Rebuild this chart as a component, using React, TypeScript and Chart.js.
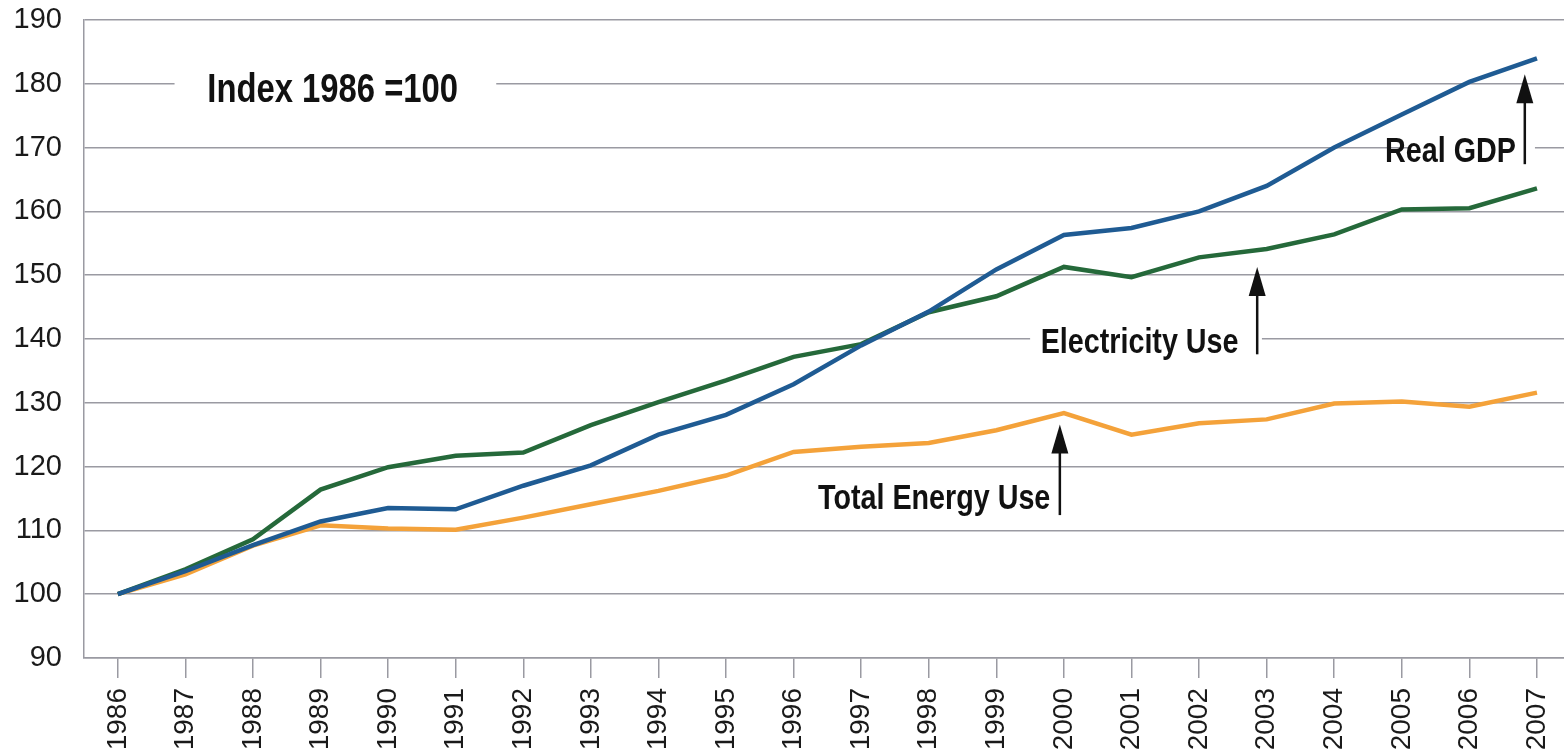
import React, { useEffect, useRef } from "react";
import { Chart, registerables } from "chart.js";

Chart.register(...registerables);

const years = [1986, 1987, 1988, 1989, 1990, 1991, 1992, 1993, 1994, 1995, 1996, 1997, 1998, 1999, 2000, 2001, 2002, 2003, 2004, 2005, 2006, 2007];
const realGDP = [100, 103.6, 107.7, 111.4, 113.5, 113.3, 117.0, 120.2, 125.0, 128.1, 132.9, 139.0, 144.3, 150.9, 156.3, 157.4, 160.0, 164.0, 170.0, 175.2, 180.3, 184.0];
const electricityUse = [100, 103.9, 108.6, 116.4, 119.9, 121.7, 122.2, 126.5, 130.1, 133.5, 137.2, 139.2, 144.2, 146.7, 151.3, 149.7, 152.8, 154.1, 156.4, 160.3, 160.5, 163.6];
const totalEnergyUse = [100, 103.1, 107.6, 110.8, 110.3, 110.1, 112.0, 114.1, 116.2, 118.6, 122.3, 123.1, 123.7, 125.7, 128.4, 125.0, 126.8, 127.4, 129.9, 130.2, 129.4, 131.6];
const yTicks = [90, 100, 110, 120, 130, 140, 150, 160, 170, 180, 190];

const labelTexts = ["Index 1986 =100", "Real GDP", "Electricity Use", "Total Energy Use"];
const labelSizes = [40, 35, 35, 35];
const labelX = [1989.18, 2005.72, 2001.12, 1998.08];
const labelY = [178.8, 169.3, 139.3, 114.9];
const labelBoxFrom = [1986.84, 2005.1, 1999.5, null];
const labelBoxTo = [1991.6, 2006.97, 2002.93, null];

const arrowX = [2006.82, 2002.86, 1999.94];
const arrowFrom = [167.4, 137.6, 112.4];
const arrowTo = [181.5, 151.3, 126.6];

const FONT = "'Liberation Sans', Arial, sans-serif";
const NARROW = 0.82;

const annotationPlugin = {
  id: "annotations",
  beforeDatasetsDraw(chart: any) {
    const { ctx, scales } = chart;
    const xs = scales.x;
    const ys = scales.y;
    ctx.save();
    ctx.fillStyle = "#ffffff";
    for (let i = 0; i < labelTexts.length; i++) {
      const f = labelBoxFrom[i];
      const t = labelBoxTo[i];
      if (f == null || t == null) continue;
      const x0 = xs.getPixelForValue(f);
      const x1 = xs.getPixelForValue(t);
      const yc = ys.getPixelForValue(labelY[i]);
      ctx.fillRect(x0, yc - 20, x1 - x0, 40);
    }
    ctx.restore();
  },
  afterDatasetsDraw(chart: any) {
    const { ctx, scales } = chart;
    const xs = scales.x;
    const ys = scales.y;
    ctx.save();
    ctx.fillStyle = "#111111";
    ctx.textAlign = "center";
    ctx.textBaseline = "middle";
    for (let i = 0; i < labelTexts.length; i++) {
      ctx.save();
      ctx.font = `bold ${labelSizes[i]}px ${FONT}`;
      const cx = xs.getPixelForValue(labelX[i]);
      const cy = ys.getPixelForValue(labelY[i]);
      ctx.translate(cx, cy);
      ctx.scale(NARROW, 1);
      ctx.fillText(labelTexts[i], 0, 0);
      ctx.restore();
    }
    ctx.strokeStyle = "#111111";
    ctx.lineWidth = 2.5;
    for (let i = 0; i < arrowX.length; i++) {
      const x = xs.getPixelForValue(arrowX[i]);
      const yb = ys.getPixelForValue(arrowFrom[i]);
      const yt = ys.getPixelForValue(arrowTo[i]);
      ctx.beginPath();
      ctx.moveTo(x, yb);
      ctx.lineTo(x, yt + 20);
      ctx.stroke();
      ctx.beginPath();
      ctx.moveTo(x, yt);
      ctx.lineTo(x - 8.5, yt + 29);
      ctx.lineTo(x + 8.5, yt + 29);
      ctx.closePath();
      ctx.fill();
    }
    ctx.restore();
  },
};

export default function App() {
  const canvasRef = useRef<HTMLCanvasElement | null>(null);

  useEffect(() => {
    document.body.style.margin = "0";
    const canvas = canvasRef.current;
    if (!canvas) return;
    const mk = (vals: number[]) => years.map((y, i) => ({ x: y, y: vals[i] }));
    const chart = new Chart(canvas, {
      type: "line",
      data: {
        datasets: [
          { label: "Real GDP", data: mk(realGDP), borderColor: "#1f5b93", borderWidth: 4.5, pointRadius: 0, tension: 0 },
          { label: "Electricity Use", data: mk(electricityUse), borderColor: "#25693a", borderWidth: 4.5, pointRadius: 0, tension: 0 },
          { label: "Total Energy Use", data: mk(totalEnergyUse), borderColor: "#f4a23a", borderWidth: 4.5, pointRadius: 0, tension: 0 },
        ],
      },
      options: {
        animation: false,
        responsive: false,
        devicePixelRatio: 1,
        layout: { padding: { top: 20, right: 0, left: 0, bottom: 0 } },
        plugins: { legend: { display: false }, tooltip: { enabled: false } },
        scales: {
          x: {
            type: "linear",
            min: 1985.5,
            max: 2007.4,
            afterBuildTicks: (scale: any) => {
              scale.ticks = years.map((v) => ({ value: v }));
            },
            afterFit: (scale: any) => {
              scale.height = 96;
              scale.paddingLeft = 0;
              scale.paddingRight = 0;
            },
            grid: { drawOnChartArea: false, drawTicks: true, tickLength: 20, color: "#9a9aa2", lineWidth: 1.5 },
            border: { display: true, color: "#9a9aa2", width: 1.5 },
            ticks: {
              autoSkip: false,
              maxRotation: 90,
              minRotation: 90,
              padding: 10,
              color: "#1a1a1a",
              font: { family: FONT, size: 28 },
              callback: (v: any) => String(v),
            },
          },
          y: {
            type: "linear",
            min: 90,
            max: 190,
            afterBuildTicks: (scale: any) => {
              scale.ticks = yTicks.map((v) => ({ value: v }));
            },
            afterFit: (scale: any) => {
              scale.width = 84;
              scale.paddingTop = 0;
              scale.paddingBottom = 0;
            },
            grid: { drawTicks: false, color: "#9a9aa2", lineWidth: 1.5 },
            border: { display: true, color: "#9a9aa2", width: 1.5 },
            ticks: {
              padding: 22,
              color: "#1a1a1a",
              font: { family: FONT, size: 29 },
              callback: (v: any) => String(v),
            },
          },
        },
      },
      plugins: [annotationPlugin],
    });
    return () => chart.destroy();
  }, []);

  return (
    <div style={{ width: 1564, height: 754, background: "#fff" }}>
      <canvas ref={canvasRef} width={1564} height={754} style={{ display: "block" }} />
    </div>
  );
}
